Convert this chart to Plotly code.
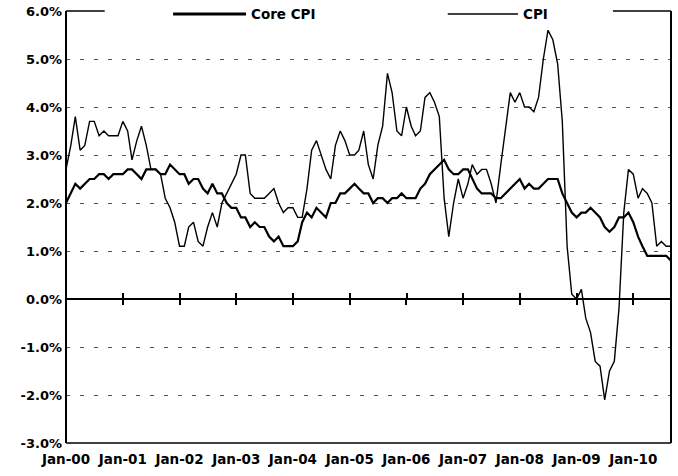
import plotly.graph_objects as go
import pandas as pd

# Monthly observations, Jan-2000 .. Sep-2010 (year-over-year % change)
months = pd.date_range("2000-01-01", "2010-09-01", freq="MS")

core_cpi = [
    2.0, 2.2, 2.4, 2.3, 2.4, 2.5, 2.5, 2.6, 2.6, 2.5, 2.6, 2.6,   # 2000
    2.6, 2.7, 2.7, 2.6, 2.5, 2.7, 2.7, 2.7, 2.6, 2.6, 2.8, 2.7,   # 2001
    2.6, 2.6, 2.4, 2.5, 2.5, 2.3, 2.2, 2.4, 2.2, 2.2, 2.0, 1.9,   # 2002
    1.9, 1.7, 1.7, 1.5, 1.6, 1.5, 1.5, 1.3, 1.2, 1.3, 1.1, 1.1,   # 2003
    1.1, 1.2, 1.6, 1.8, 1.7, 1.9, 1.8, 1.7, 2.0, 2.0, 2.2, 2.2,   # 2004
    2.3, 2.4, 2.3, 2.2, 2.2, 2.0, 2.1, 2.1, 2.0, 2.1, 2.1, 2.2,   # 2005
    2.1, 2.1, 2.1, 2.3, 2.4, 2.6, 2.7, 2.8, 2.9, 2.7, 2.6, 2.6,   # 2006
    2.7, 2.7, 2.5, 2.3, 2.2, 2.2, 2.2, 2.1, 2.1, 2.2, 2.3, 2.4,   # 2007
    2.5, 2.3, 2.4, 2.3, 2.3, 2.4, 2.5, 2.5, 2.5, 2.2, 2.0, 1.8,   # 2008
    1.7, 1.8, 1.8, 1.9, 1.8, 1.7, 1.5, 1.4, 1.5, 1.7, 1.7, 1.8,   # 2009
    1.6, 1.3, 1.1, 0.9, 0.9, 0.9, 0.9, 0.9, 0.8,                  # 2010
]

cpi = [
    2.7, 3.2, 3.8, 3.1, 3.2, 3.7, 3.7, 3.4, 3.5, 3.4, 3.4, 3.4,   # 2000
    3.7, 3.5, 2.9, 3.3, 3.6, 3.2, 2.7, 2.7, 2.6, 2.1, 1.9, 1.6,   # 2001
    1.1, 1.1, 1.5, 1.6, 1.2, 1.1, 1.5, 1.8, 1.5, 2.0, 2.2, 2.4,   # 2002
    2.6, 3.0, 3.0, 2.2, 2.1, 2.1, 2.1, 2.2, 2.3, 2.0, 1.8, 1.9,   # 2003
    1.9, 1.7, 1.7, 2.3, 3.1, 3.3, 3.0, 2.7, 2.5, 3.2, 3.5, 3.3,   # 2004
    3.0, 3.0, 3.1, 3.5, 2.8, 2.5, 3.2, 3.6, 4.7, 4.3, 3.5, 3.4,   # 2005
    4.0, 3.6, 3.4, 3.5, 4.2, 4.3, 4.1, 3.8, 2.1, 1.3, 2.0, 2.5,   # 2006
    2.1, 2.4, 2.8, 2.6, 2.7, 2.7, 2.4, 2.0, 2.8, 3.5, 4.3, 4.1,   # 2007
    4.3, 4.0, 4.0, 3.9, 4.2, 5.0, 5.6, 5.4, 4.9, 3.7, 1.1, 0.1,   # 2008
    0.0, 0.2, -0.4, -0.7, -1.3, -1.4, -2.1, -1.5, -1.3, -0.2, 1.8, 2.7,  # 2009
    2.6, 2.1, 2.3, 2.2, 2.0, 1.1, 1.2, 1.1, 1.1,                  # 2010
]

x_tick_dates = pd.date_range("2000-01-01", "2010-01-01", freq="YS")
x_minor_dates = x_tick_dates + pd.Timedelta(days=1)
x_tick_labels = ["Jan-00", "Jan-01", "Jan-02", "Jan-03", "Jan-04", "Jan-05",
                 "Jan-06", "Jan-07", "Jan-08", "Jan-09", "Jan-10"]
y_tick_vals = [-3, -2, -1, 0, 1, 2, 3, 4, 5, 6]
y_tick_labels = ["-3.0%", "-2.0%", "-1.0%", "0.0%", "1.0%", "2.0%",
                 "3.0%", "4.0%", "5.0%", "6.0%"]
grid_vals = [-2, -1, 1, 2, 3, 4, 5]
series_names = ["Core CPI", "CPI"]

y_min, y_max = -3, 6
x_range = [months[0], months[-1]]

font_y = dict(family="DejaVu Sans", size=13, color="black", weight="bold")
font_x = dict(family="DejaVu Sans", size=13.5, color="black", weight="bold")

fig = go.Figure()
fig.add_trace(go.Scatter(x=months, y=core_cpi, name=series_names[0], mode="lines",
                         line=dict(color="black", width=2.2),
                         xaxis="x", yaxis="y"))
fig.add_trace(go.Scatter(x=months, y=cpi, name=series_names[1], mode="lines",
                         line=dict(color="black", width=1.4),
                         xaxis="x2", yaxis="y2"))

zero_pos = (0 - y_min) / (y_max - y_min)

fig.update_layout(
    width=678, height=476,
    margin=dict(l=66, r=7, t=11, b=33, autoexpand=False),
    paper_bgcolor="white", plot_bgcolor="white",
    showlegend=False,
    xaxis=dict(range=x_range, tickvals=x_tick_dates, ticktext=x_tick_labels,
               showgrid=False, zeroline=False, showline=False, ticks="",
               tickfont=font_x, ticklabelstandoff=6, automargin=False),
    xaxis2=dict(overlaying="x", anchor="free", position=zero_pos, range=x_range,
                tickvals=x_tick_dates, ticks="outside", ticklen=5, tickwidth=1.5,
                tickcolor="black", showline=True, linecolor="black", linewidth=1.5,
                showticklabels=False, showgrid=False, zeroline=False, automargin=False,
                minor=dict(tickvals=x_minor_dates, ticks="inside", ticklen=5,
                           tickwidth=1.5, tickcolor="black", showgrid=False)),
    yaxis=dict(range=[y_min, y_max], tickvals=y_tick_vals, ticktext=y_tick_labels,
               showgrid=False, zeroline=False, showline=False, ticks="",
               tickfont=font_y, ticklabelstandoff=3, automargin=False),
    yaxis2=dict(overlaying="y", anchor="x", range=[y_min, y_max], tickvals=grid_vals,
                showticklabels=False, showgrid=True, griddash="4px,10px",
                gridcolor="#555555", gridwidth=1, zeroline=False, ticks="",
                showline=False, automargin=False),
)

# plot-area border (top edge interrupted by the legend)
border = [
    dict(x0=0, x1=0, y0=0, y1=1, w=2),
    dict(x0=1, x1=1, y0=0, y1=1, w=2),
    dict(x0=0, x1=1, y0=0, y1=0, w=1.5),
    dict(x0=0, x1=0.064, y0=1, y1=1, w=1.5),
    dict(x0=0.904, x1=1, y0=1, y1=1, w=1.5),
]
for b in border:
    fig.add_shape(type="line", xref="paper", yref="paper", x0=b["x0"], x1=b["x1"],
                  y0=b["y0"], y1=b["y1"], line=dict(color="black", width=b["w"]),
                  layer="above")

# legend (line samples + labels) along the top edge
leg_y = 0.993
legend_items = [
    dict(x0=0.177, x1=0.2975, w=3.0, tx=0.303, text=series_names[0]),
    dict(x0=0.631, x1=0.747, w=1.4, tx=0.752, text=series_names[1]),
]
for it in legend_items:
    fig.add_shape(type="line", xref="paper", yref="paper", x0=it["x0"], x1=it["x1"],
                  y0=leg_y, y1=leg_y, line=dict(color="black", width=it["w"]),
                  layer="above")
    fig.add_annotation(x=it["tx"], y=leg_y, xref="paper", yref="paper",
                       text=it["text"], showarrow=False, xanchor="left",
                       yanchor="middle", font=dict(family="DejaVu Sans", size=13.5,
                                                   color="black", weight="bold"))

fig.write_html("out.html",
               config={"displayModeBar": False},
               post_script="document.body.style.margin='0';"
                           "document.body.style.overflow='hidden';")
